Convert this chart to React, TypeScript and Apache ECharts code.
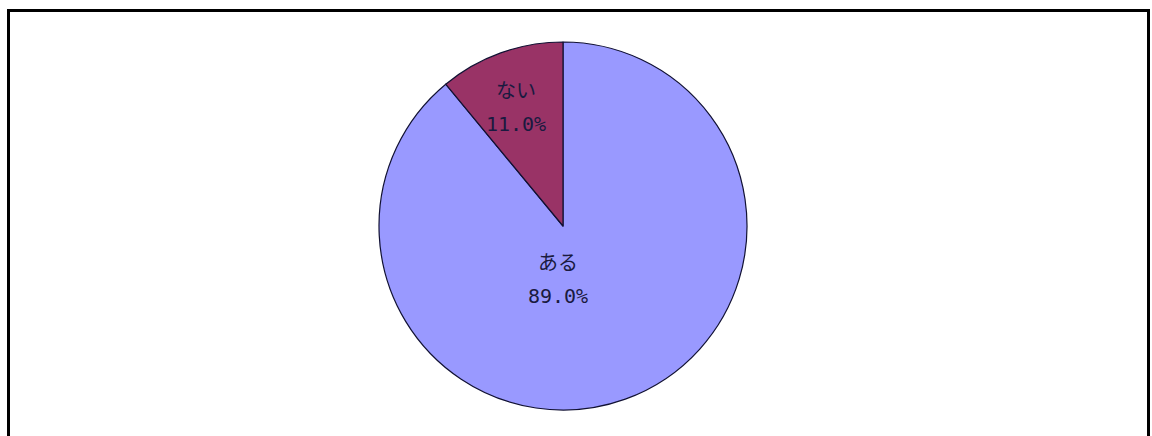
import React, { useEffect, useRef } from "react";
import * as echarts from "echarts";

const categories = ["ある", "ない"];
const values = [89.0, 11.0];
const colors = ["#9999FF", "#993366"];

export default function App() {
  const ref = useRef<HTMLDivElement>(null);
  useEffect(() => {
    if (!ref.current) return;
    const chart = echarts.init(ref.current, null, { renderer: "svg" });
    const labelPos: Record<number, [number, number]> = {
      0: [558, 279],
      1: [516, 107],
    };
    chart.setOption({
      animation: false,
      backgroundColor: "#ffffff",
      graphic: [
        {
          type: "rect",
          shape: { x: 8.5, y: 10.5, width: 1140, height: 480 },
          style: { fill: "none", stroke: "#000", lineWidth: 3 },
          z: 10,
        },
      ],
      series: [
        {
          type: "pie",
          center: [563, 226],
          radius: [0, 184],
          startAngle: 90,
          clockwise: true,
          avoidLabelOverlap: false,
          data: categories.map((c, i) => ({
            name: c,
            value: values[i],
            itemStyle: { color: colors[i] },
          })),
          itemStyle: { borderColor: "#111133", borderWidth: 1.2 },
          label: {
            show: true,
            position: "inside",
            formatter: (p: any) => `${p.name}\n${p.value.toFixed(1)}%`,
            fontFamily: "'DejaVu Sans Mono', 'Noto Sans CJK JP', monospace",
            fontSize: 20,
            lineHeight: 33,
            color: "#1a1a40",
            align: "center",
            verticalAlign: "middle",
          },
          labelLayout: (params: any) => {
            const p = labelPos[params.dataIndex];
            return { x: p[0], y: p[1], align: "center", verticalAlign: "middle" };
          },
          emphasis: { disabled: true },
        },
      ],
    });
    return () => chart.dispose();
  }, []);
  return (
    <div
      ref={ref}
      style={{ position: "absolute", left: 0, top: 0, width: 1152, height: 436 }}
    />
  );
}
